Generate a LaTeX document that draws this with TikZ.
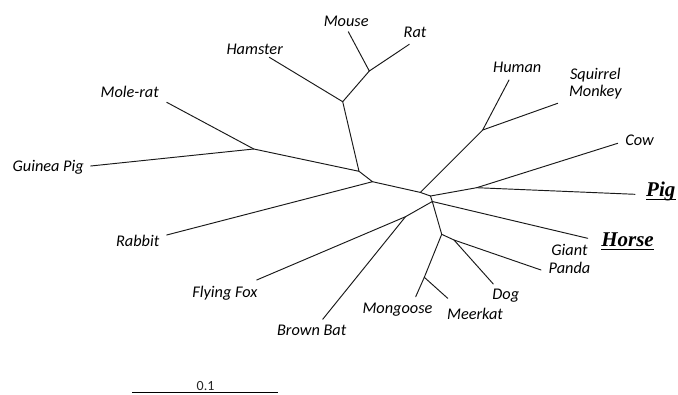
\documentclass[tikz,border=0pt]{standalone}
\usepackage{fontspec}
\setmainfont{Carlito}
\newfontfamily\hlfont{Liberation Serif}
\begin{document}
\begin{tikzpicture}[x=1pt,y=-1pt,
  branch/.style={line width=0.95pt, draw=black!90, line cap=round, line join=round},
  taxon/.style={font=\fontsize{16.3}{17.7}\selectfont\itshape, inner sep=0pt, anchor=base, align=center, text=black},
  hilite/.style={font=\hlfont\fontsize{21}{24}\selectfont\bfseries\itshape, inner sep=0pt, anchor=base},
  uline/.style={line width=1.3pt},
  scalebar/.style={line width=1.7pt}]
\useasboundingbox (0,0) rectangle (678,394);
% internal nodes
\coordinate (nMR) at (369.3,71);
\coordinate (nRod) at (342.7,101.7);
\coordinate (nR3) at (359,171.3);
\coordinate (nG) at (253.8,149);
\coordinate (nR4) at (372.5,181.7);
\coordinate (nC1) at (420.3,192.4);
\coordinate (nP) at (482.7,130);
\coordinate (nC2) at (430.5,196);
\coordinate (nU) at (476.7,187.7);
\coordinate (nC3) at (432.3,201.5);
\coordinate (nB) at (405.5,216.7);
\coordinate (nK) at (441.7,234.3);
\coordinate (nM) at (424.3,277.3);
\coordinate (nD) at (454,240);
% leaf tips
\coordinate (tMouse) at (348.3,31.7);
\coordinate (tRat) at (409.3,44.3);
\coordinate (tHam) at (269.3,57.3);
\coordinate (tMole) at (166.7,102.3);
\coordinate (tGP) at (90.7,166);
\coordinate (tRab) at (166.7,235);
\coordinate (tHum) at (509,80);
\coordinate (tSqM) at (557.7,103.3);
\coordinate (tCow) at (617.7,143.3);
\coordinate (tPig) at (635,194.3);
\coordinate (tHorse) at (587.7,238.3);
\coordinate (tPanda) at (541,270);
\coordinate (tDog) at (493.3,284);
\coordinate (tMong) at (415.7,296.7);
\coordinate (tMeer) at (447.7,298.3);
\coordinate (tFox) at (256.7,280);
\coordinate (tBat) at (322.7,319.3);
% branches
\draw[branch] (tMouse) -- (nMR) -- (tRat);
\draw[branch] (nMR) -- (nRod) -- (tHam);
\draw[branch] (nRod) -- (nR3) -- (nG) -- (tMole);
\draw[branch] (nG) -- (tGP);
\draw[branch] (nR3) -- (nR4) -- (tRab);
\draw[branch] (nR4) -- (nC1) -- (nP) -- (tHum);
\draw[branch] (nP) -- (tSqM);
\draw[branch] (nC1) -- (nC2) -- (nU) -- (tCow);
\draw[branch] (nU) -- (tPig);
\draw[branch] (nC2) -- (nC3) -- (tHorse);
\draw[branch] (nC3) -- (nB) -- (tFox);
\draw[branch] (nB) -- (tBat);
\draw[branch] (nC3) -- (nK) -- (nD) -- (tPanda);
\draw[branch] (nD) -- (tDog);
\draw[branch] (nK) -- (nM) -- (tMong);
\draw[branch] (nM) -- (tMeer);
% labels
\node[taxon] (lMouse) at (346.2,26) {Mouse};
\node[taxon] (lRat) at (415,37.7) {Rat};
\node[taxon] (lHam) at (254.7,54) {Hamster};
\node[taxon] (lMole) at (129.7,97.7) {Mole-rat};
\node[taxon] (lGP) at (48.2,171) {Guinea Pig};
\node[taxon] (lRab) at (137.7,246.7) {Rabbit};
\node[taxon] (lHum) at (517.2,72.3) {Human};
\node[taxon] (lSqM) at (595.3,96.7) {Squirrel\\Monkey};
\node[taxon] (lCow) at (639.5,145) {Cow};
\node[taxon] (lPanda) at (569.5,273.3) {Giant\\Panda};
\node[taxon] (lDog) at (505.8,299.3) {Dog};
\node[taxon] (lMong) at (397.5,313.3) {Mongoose};
\node[taxon] (lMeer) at (475,319.3) {Meerkat};
\node[taxon] (lFox) at (225,297.7) {Flying Fox};
\node[taxon] (lBat) at (311.7,335.7) {Brown Bat};
\node[hilite] (lPig) at (660.8,196.5) {Pig};
\node[hilite] (lHorse) at (627.5,246.5) {Horse};
\draw[uline] ([yshift=-2.8pt]lPig.base west) -- ([yshift=-2.8pt]lPig.base east);
\draw[uline] ([yshift=-2.8pt]lHorse.base west) -- ([yshift=-2.8pt]lHorse.base east);
% scale bar
\coordinate (sL) at (132.3,392.6);
\coordinate (sR) at (277.7,392.6);
\draw[scalebar] (sL) -- (sR);
\node[font=\fontsize{14}{16}\selectfont, inner sep=0pt, anchor=base, text=black!85] (lScale) at (205.6,390.3) {0.1};
\end{tikzpicture}
\end{document}
